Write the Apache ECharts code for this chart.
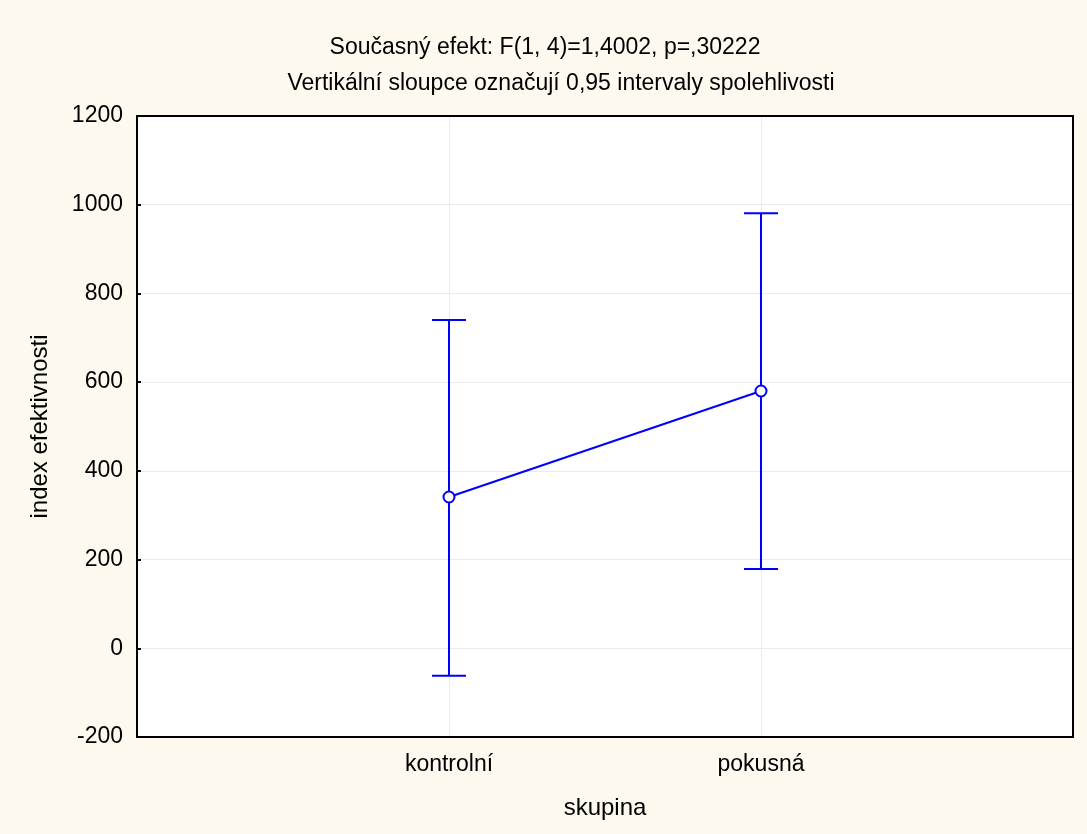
<!DOCTYPE html>
<html><head><meta charset="utf-8">
<script src="https://cdn.jsdelivr.net/npm/echarts@6/dist/echarts.min.js"></script>
<style>html,body{margin:0;padding:0;background:#fdf9ee;}#c{width:1087px;height:834px;}</style>
</head><body><div id="c"></div>
<script>
const categories = ['kontrolní', 'pokusná'];
const means = [341, 580];
const upper = [740, 981];
const lower = [-62, 179];
const yTicks = [-200, 0, 200, 400, 600, 800, 1000, 1200];
const titleLine1 = 'Současný efekt: F(1, 4)=1,4002, p=,30222';
const titleLine2 = 'Vertikální sloupce označují 0,95 intervaly spolehlivosti';

const FONT = 'Liberation Sans, Arial, sans-serif';
const BLUE = '#0000ff';
const FRAME = { show: true, onZero: false, lineStyle: { color: '#000', width: 2 } };
const chart = echarts.init(document.getElementById('c'));
const pos = categories.map((c, i) => i + 1);
chart.setOption({
  backgroundColor: '#fdf9ee',
  animation: false,
  title: [
    { text: titleLine1, left: 540, top: 31, textAlign: 'center', textStyle: { fontFamily: FONT, fontSize: 23, fontWeight: 'normal', color: '#000' } },
    { text: titleLine2, left: 556, top: 67, textAlign: 'center', textStyle: { fontFamily: FONT, fontSize: 23, fontWeight: 'normal', color: '#000' } }
  ],
  grid: { left: 137, right: 14, top: 116, bottom: 97, show: true, backgroundColor: '#ffffff', borderWidth: 0 },
  xAxis: [{
    type: 'value', min: 0, max: 3, interval: 1,
    name: 'skupina', nameLocation: 'middle', nameGap: 59,
    nameTextStyle: { fontFamily: FONT, fontSize: 24, color: '#000' },
    axisLine: FRAME, axisTick: { show: false },
    axisLabel: { margin: 16, fontFamily: FONT, fontSize: 23, color: '#000',
      formatter: v => (v >= 1 && v <= categories.length && Number.isInteger(v)) ? categories[v - 1] : '' },
    splitLine: { show: true, lineStyle: { color: '#ebebeb', width: 1 } }
  }, {
    type: 'value', min: 0, max: 3, interval: 1, position: 'top',
    axisLine: FRAME, axisTick: { show: false }, axisLabel: { show: false }, splitLine: { show: false }
  }],
  yAxis: [{
    type: 'value', min: yTicks[0], max: yTicks[yTicks.length - 1], interval: 200,
    name: 'index efektivnosti', nameLocation: 'middle', nameGap: 85,
    nameTextStyle: { fontFamily: FONT, fontSize: 24, color: '#000' },
    axisLine: FRAME,
    axisTick: { show: true, inside: true, length: 4, lineStyle: { color: '#000', width: 2 } },
    axisLabel: { margin: 14, fontFamily: FONT, fontSize: 23, color: '#000', formatter: v => String(v) },
    splitLine: { show: true, lineStyle: { color: '#ebebeb', width: 1 } }
  }, {
    type: 'value', min: yTicks[0], max: yTicks[yTicks.length - 1], interval: 200, position: 'right',
    axisLine: FRAME, axisTick: { show: false }, axisLabel: { show: false }, splitLine: { show: false }
  }],
  series: [
    {
      type: 'custom',
      data: pos.map((p, i) => [p, lower[i], upper[i]]),
      renderItem: function (params, api) {
        const x = api.value(0);
        const lo = api.coord([x, api.value(1)]);
        const hi = api.coord([x, api.value(2)]);
        const hw = 17;
        const style = { stroke: BLUE, lineWidth: 2, fill: null };
        return { type: 'group', children: [
          { type: 'line', shape: { x1: lo[0], y1: lo[1], x2: hi[0], y2: hi[1] }, style },
          { type: 'line', shape: { x1: hi[0] - hw, y1: hi[1], x2: hi[0] + hw, y2: hi[1] }, style },
          { type: 'line', shape: { x1: lo[0] - hw, y1: lo[1], x2: lo[0] + hw, y2: lo[1] }, style }
        ]};
      },
      z: 2
    },
    {
      type: 'line',
      data: pos.map((p, i) => [p, means[i]]),
      symbol: 'circle', symbolSize: 11,
      itemStyle: { color: '#ffffff', borderColor: BLUE, borderWidth: 2 },
      lineStyle: { color: BLUE, width: 2 },
      z: 3
    }
  ]
});
</script></body></html>
